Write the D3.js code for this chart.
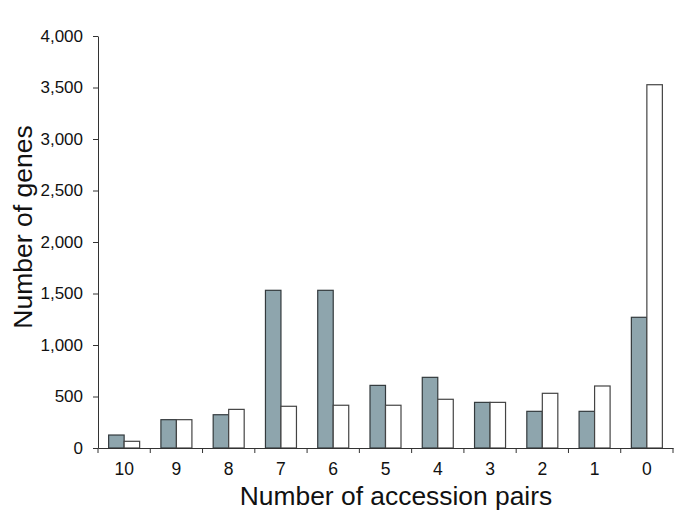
<!DOCTYPE html>
<html>
<head>
<meta charset="utf-8">
<script src="https://cdn.jsdelivr.net/npm/d3@7"></script>
<style>
  html, body { margin: 0; padding: 0; background: #fff; }
  svg { display: block; font-family: "Liberation Sans", Arial, Helvetica, sans-serif; }
</style>
</head>
<body>
<svg id="chart" width="685" height="525"></svg>
<script>
const categories = ["10", "9", "8", "7", "6", "5", "4", "3", "2", "1", "0"];
const seriesNames = ["shaded", "open"];
const shadedValues = [126, 275, 323, 1531, 1531, 608, 686, 443, 356, 356, 1269];
const openValues = [65, 275, 375, 405, 415, 415, 473, 443, 531, 602, 3527];
const yTicks = [0, 500, 1000, 1500, 2000, 2500, 3000, 3500, 4000];
const xTitle = "Number of accession pairs";
const yTitle = "Number of genes";

(function () {
const svg = d3.select("#chart");
const mLeft = 98, mRight = 673, mTop = 36, mBottom = 448;

const x = d3.scaleBand().domain(categories).range([mLeft, mRight]).padding(0);
const x1 = d3.scaleBand().domain(seriesNames).range([0, x.bandwidth()])
  .paddingInner(0).paddingOuter(0.686);
const y = d3.scaleLinear().domain([0, 4000]).range([mBottom, mTop]);

const rows = categories.map((c, i) => ({ cat: c, shaded: shadedValues[i], open: openValues[i] }));
const fills = { shaded: "#8ea5ad", open: "#ffffff" };
const strokes = { shaded: "#333a3d", open: "#444444" };

// bars
const g = svg.append("g");
rows.forEach(r => {
  seriesNames.forEach(s => {
    g.append("rect")
      .attr("x", x(r.cat) + x1(s))
      .attr("y", y(r[s]))
      .attr("width", x1.bandwidth())
      .attr("height", y(0) - y(r[s]))
      .attr("fill", fills[s])
      .attr("stroke", strokes[s])
      .attr("stroke-width", 1.2);
  });
});

// y axis
const yAxis = svg.append("g")
  .attr("transform", `translate(${mLeft},0)`)
  .call(d3.axisLeft(y).tickValues(yTicks).tickFormat(d3.format(",")).tickSize(5).tickSizeOuter(0).tickPadding(10));
yAxis.select(".domain").attr("stroke", "#333");
yAxis.selectAll(".tick line").attr("stroke", "#333");
yAxis.selectAll(".tick text").attr("font-size", 17).attr("fill", "#111")
  .attr("font-family", "Liberation Sans, Arial, sans-serif");

// x axis (labels centered in bands, ticks at band boundaries)
const xAxis = svg.append("g")
  .attr("transform", `translate(0,${mBottom})`)
  .call(d3.axisBottom(x).tickSize(0).tickSizeOuter(0).tickPadding(15));
xAxis.select(".domain").attr("stroke", "#333");
xAxis.selectAll(".tick text").attr("font-size", 17.5).attr("fill", "#111")
  .attr("font-family", "Liberation Sans, Arial, sans-serif");
const boundaries = categories.map(c => x(c)).concat([x.range()[1]]);
xAxis.selectAll("line.bnd").data(boundaries).enter().append("line")
  .attr("class", "bnd")
  .attr("x1", d => d).attr("x2", d => d)
  .attr("y1", 0).attr("y2", 5)
  .attr("stroke", "#333");

// titles
svg.append("text")
  .attr("x", 396)
  .attr("y", 505)
  .attr("text-anchor", "middle")
  .attr("font-size", 26.4)
  .attr("fill", "#111")
  .text(xTitle);

svg.append("text")
  .attr("transform", `translate(32,227) rotate(-90)`)
  .attr("text-anchor", "middle")
  .attr("font-size", 26.5)
  .attr("fill", "#111")
  .text(yTitle);
})();
</script>
</body>
</html>
